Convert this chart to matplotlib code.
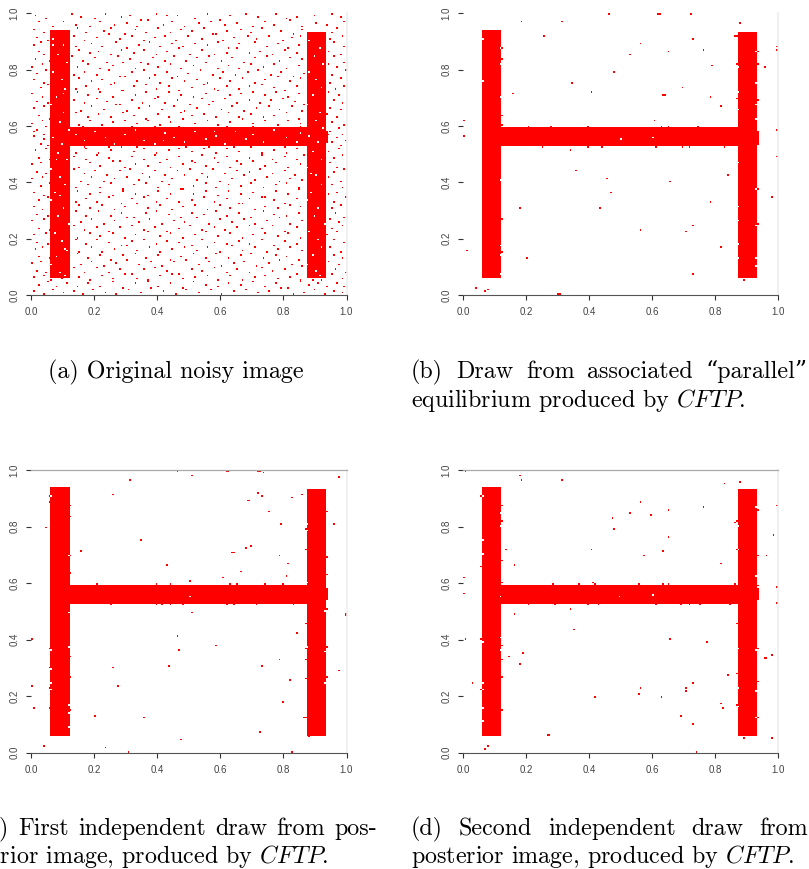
import numpy as np
import matplotlib
matplotlib.use("Agg")
import matplotlib.pyplot as plt
from matplotlib.colors import ListedColormap

plt.rcParams['mathtext.fontset'] = 'cm'

W_PX, H_PX = 809, 869
N = 180  # pixel grid of each image

# ---- the "H" letter: rectangles (x0, x1, y0, y1) in data units ----
h_x0 = [0.060, 0.870, 0.124, 0.934]
h_x1 = [0.124, 0.934, 0.870, 0.938]
h_y0 = [0.059, 0.059, 0.530, 0.540]
h_y1 = [0.937, 0.934, 0.592, 0.585]

ticks = [0.0, 0.2, 0.4, 0.6, 0.8, 1.0]
tick_labels = ["0.0", "0.2", "0.4", "0.6", "0.8", "1.0"]

# ---- (a) noisy image: flipped pixels (per-mille coordinates) ----
noise_a = [
 (12,993),(47,981),(133,996),(158,988),(201,979),(236,997),(288,984),(312,992),(347,976),(395,999),(431,989),(462,994),(520,983),(561,996),(598,977),(631,992),(678,998),(720,985),(775,995),(806,980),(842,984),(897,993),(951,997),(979,986),
 (25,968),(71,955),(104,972),(142,961),(187,952),(219,970),(263,958),(301,966),(338,951),(372,973),(418,957),(449,969),(486,953),(533,962),(572,971),(615,956),(650,965),(702,950),(741,968),(768,959),(819,973),(856,954),(905,966),(938,958),(990,971),
 (6,940),(39,930),(147,945),(176,928),(228,937),(255,947),(297,926),(329,942),(366,933),(403,948),(440,929),(477,940),(509,935),(548,946),(587,927),(622,938),(664,944),(697,931),(733,947),(789,936),(830,926),(861,942),(955,930),(972,945),
 (19,912),(52,902),(137,920),(169,905),(208,916),(246,923),(279,908),(320,918),(358,901),(391,913),(425,922),(458,904),(497,917),(539,909),(575,924),(608,902),(641,915),(687,921),(716,906),(752,918),(798,903),(825,913),(853,922),(948,909),(986,917),
 (8,885),(33,897),(141,878),(192,890),(223,881),(269,896),(305,876),(342,888),(377,899),(410,882),(446,894),(482,879),(518,891),(556,884),(594,898),(627,877),(660,889),(709,895),(745,880),(781,892),(814,876),(848,887),(961,899),(993,883),
 (27,862),(44,851),(152,870),(185,856),(214,866),(251,853),(287,872),(326,858),(361,867),(399,850),(433,863),(471,874),(503,855),(542,868),(580,852),(617,861),(653,873),(692,857),(727,866),(763,851),(801,870),(839,859),(944,864),(978,852),
 (15,838),(57,829),(131,845),(166,833),(203,842),(239,826),(275,848),(316,836),(350,827),(385,844),(423,832),(455,847),(491,828),(527,840),(566,849),(602,831),(636,843),(674,826),(711,839),(748,848),(786,830),(821,841),(857,834),(957,846),(989,827),
 (3,811),(36,822),(145,806),(179,818),(217,802),(258,815),(293,823),(331,804),(368,817),(404,808),(439,821),(474,801),(512,813),(551,824),(589,805),(624,816),(661,803),(699,819),(737,810),(772,822),(809,801),(846,814),(940,820),(970,806),
 (22,787),(49,797),(136,779),(172,791),(209,783),(247,798),(282,777),(319,789),(356,795),(392,780),(428,792),(465,776),(499,786),(537,799),(574,781),(611,793),(647,778),(684,790),(722,796),(759,782),(793,794),(832,777),(863,788),(952,783),(995,796),
 (10,762),(41,752),(155,770),(190,757),(226,766),(264,751),(299,773),(337,760),(373,768),(411,754),(447,771),(486,759),(524,765),(560,750),(596,772),(633,756),(671,769),(706,753),(743,764),(780,774),(817,758),(852,767),(946,755),(982,770),
 (30,737),(55,746),(139,729),(174,741),(212,733),(250,748),(286,726),(323,739),(362,745),(397,731),(435,742),(470,727),(507,736),(546,749),(583,732),(620,744),(657,728),(694,740),(731,747),(767,734),(804,726),(841,743),(962,731),(990,741),
 (4,713),(37,703),(149,721),(183,709),(220,717),(256,702),(292,723),(330,711),(365,718),(402,705),(438,720),(476,710),(514,701),(553,716),(590,724),(628,706),(666,715),(702,722),(739,707),(776,719),(812,704),(849,714),(943,718),(975,708),
 (18,688),(50,679),(134,694),(170,682),(206,697),(243,686),(280,676),(317,692),(353,683),(389,698),(426,680),(462,691),(501,677),(539,695),(577,684),(614,699),(650,681),(689,693),(725,678),(761,689),(798,697),(836,685),(866,676),(958,692),(987,680),
 (9,662),(42,671),(159,655),(193,668),(229,660),(267,673),(303,652),(340,664),(376,670),(413,657),(450,667),(488,651),(526,663),(563,674),(600,658),(638,669),(675,654),(713,666),(750,672),(788,659),(823,668),(859,653),(949,665),(981,656),
 (26,638),(58,627),(143,645),(178,632),(215,641),(253,629),(289,647),(326,636),(363,626),(400,643),(437,631),(474,648),(511,634),(549,640),(586,628),(623,646),(661,633),(698,644),(735,629),(772,637),(809,648),(845,627),(937,640),(969,632),
 (2,611),(34,620),(153,605),(188,617),(224,602),(261,613),(297,622),(334,607),(371,619),(408,603),(444,614),(481,624),(519,609),(557,618),(594,601),(631,612),(668,623),(705,606),(742,617),(779,604),(816,621),(852,610),(955,615),(992,603),
 (21,587),(48,596),(166,597),(241,594),(318,598),(392,595),(470,597),(545,593),(619,599),(703,596),(782,594),(851,598),(946,583),(974,592),(11,578),
 (7,563),(39,551),(44,572),(944,568),(967,556),(988,571),
 (28,537),(52,528),(950,541),(979,531),(996,547),(171,526),(248,527),(334,525),(407,528),(489,526),(566,527),(641,525),(722,528),(803,526),
 (13,512),(46,521),(141,505),(176,518),(213,502),(251,516),(287,523),(324,508),(361,519),(398,501),(435,514),(472,522),(510,507),(547,517),(584,503),(621,520),(659,511),(696,524),(733,505),(770,515),(807,501),(844,522),(941,510),(976,519),
 (24,487),(56,478),(138,494),(173,481),(209,497),(246,485),(283,476),(320,492),(357,483),(394,498),(431,479),(468,490),(506,476),(543,496),(580,484),(617,493),(655,477),(692,488),(729,499),(766,480),(803,491),(840,478),(865,495),(958,486),(985,497),
 (5,462),(31,471),(150,455),(186,468),(222,459),(259,473),(295,451),(332,466),(369,458),(406,472),(442,453),(479,464),(517,470),(554,456),(591,467),(628,452),(666,463),(703,474),(740,457),(777,469),(814,454),(851,465),(947,470),(972,452),
 (17,438),(49,428),(135,446),(168,431),(204,443),(241,426),(278,440),(315,448),(352,433),(389,444),(427,427),(464,439),(502,447),(540,432),(577,445),(614,429),(652,441),(689,435),(726,448),(764,430),(801,442),(838,427),(960,437),(993,447),
 (1,412),(38,420),(157,405),(191,417),(228,403),(265,414),(301,422),(339,408),(375,419),(412,401),(449,413),(486,423),(523,406),(561,418),(598,402),(635,415),(673,424),(710,409),(747,420),(784,404),(821,416),(857,410),(939,421),(980,405),
 (29,387),(59,397),(144,378),(180,391),(217,382),(254,396),(290,376),(327,389),(364,399),(401,381),(438,393),(475,377),(513,388),(550,398),(587,380),(624,392),(662,384),(699,397),(736,378),(773,390),(810,399),(847,383),(954,394),(988,379),
 (11,362),(43,353),(148,370),(184,357),(220,366),(257,351),(294,372),(331,360),(368,354),(405,368),(441,356),(478,373),(516,359),(553,367),(590,352),(627,371),(665,358),(702,365),(739,350),(776,369),(813,361),(849,373),(943,357),(969,366),
 (23,337),(54,346),(139,329),(175,342),(211,333),(248,347),(285,327),(322,339),(359,345),(396,331),(433,343),(470,328),(508,338),(545,349),(582,332),(619,344),(657,326),(694,340),(731,348),(768,334),(805,327),(842,341),(957,333),(996,346),
 (6,313),(35,303),(152,321),(187,309),(225,318),(262,302),(298,315),(335,323),(372,307),(409,317),(446,301),(483,314),(521,322),(558,305),(595,319),(632,310),(670,324),(707,303),(744,316),(781,308),(818,320),(855,312),(950,306),(983,318),
 (19,288),(51,278),(142,295),(177,283),(214,297),(251,281),(288,292),(325,276),(362,290),(399,298),(436,284),(473,277),(511,293),(548,286),(585,299),(622,280),(660,291),(697,276),(734,296),(771,285),(808,279),(845,294),(963,289),(991,277),
 (3,262),(40,271),(156,256),(192,268),(229,252),(266,265),(302,273),(339,259),(376,270),(413,254),(450,266),(488,261),(525,274),(562,253),(599,267),(636,258),(674,272),(711,255),(748,264),(785,273),(822,251),(858,263),(945,269),(977,257),
 (27,238),(57,229),(137,246),(171,233),(208,243),(245,227),(282,240),(319,248),(356,232),(393,244),(430,226),(467,237),(505,247),(542,231),(579,242),(616,228),(654,239),(691,249),(728,234),(765,245),(802,226),(839,241),(952,236),(985,247),
 (9,212),(45,222),(149,204),(185,218),(221,209),(258,221),(295,203),(332,215),(369,224),(406,207),(443,219),(480,201),(518,213),(555,223),(592,206),(629,217),(667,202),(704,214),(741,222),(778,208),(815,219),(852,205),(938,214),(971,223),
 (21,188),(53,178),(140,195),(174,182),(211,197),(248,184),(284,176),(321,191),(358,199),(395,180),(432,193),(469,185),(507,177),(544,196),(581,187),(618,179),(656,194),(693,183),(730,198),(767,176),(804,190),(841,181),(959,197),(994,185),
 (14,162),(37,171),(154,155),(190,168),(226,152),(263,166),(300,173),(337,158),(374,169),(411,151),(448,163),(485,172),(523,157),(560,167),(597,153),(634,174),(672,160),(709,170),(746,154),(783,165),(820,172),(856,159),(948,167),(980,152),
 (25,137),(58,128),(145,146),(181,132),(218,144),(255,127),(291,139),(328,148),(365,131),(402,142),(439,126),(476,138),(514,147),(551,133),(588,145),(625,129),(663,140),(700,148),(737,130),(774,143),(811,134),(848,127),(956,141),(988,130),
 (4,112),(32,121),(158,106),(194,118),(231,102),(268,114),(305,123),(342,109),(379,120),(416,104),(453,117),(491,124),(528,108),(565,119),(602,101),(639,113),(677,122),(714,105),(751,116),(788,124),(825,110),(861,103),(942,118),(975,107),
 (18,88),(48,79),(136,95),(172,83),(209,97),(246,81),(283,92),(320,76),(357,89),(394,98),(431,84),(468,77),(506,93),(543,86),(580,99),(617,80),(655,91),(692,78),(729,96),(766,85),(803,94),(840,77),(965,90),(997,82),
 (7,62),(43,71),(66,53),(97,57),(151,66),(187,54),(224,69),(261,58),(297,73),(334,61),(371,52),(408,67),(445,74),(482,56),(520,64),(557,72),(594,55),(631,68),(669,51),(706,63),(743,71),(780,57),(817,66),(853,52),(889,55),(921,53),(951,73),(984,60),
 (23,37),(55,46),(82,30),(113,41),(146,28),(182,44),(219,33),(256,47),(293,26),(330,39),(367,48),(404,31),(441,42),(478,27),(515,45),(553,36),(590,29),(627,43),(665,34),(702,49),(739,32),(776,40),(813,26),(850,47),(878,35),(907,44),(938,28),(969,41),(992,33),
 (11,12),(39,3),(71,19),(104,8),(137,16),(163,2),(199,21),(236,10),(272,4),(309,18),(346,7),(383,23),(420,13),(457,1),(494,17),(531,9),(568,22),(605,5),(643,14),(680,20),(717,6),(754,15),(791,24),(828,3),(866,11),(897,19),(929,4),(958,16),(987,8),
]
holes_a = [
 (72,910),(101,884),(88,851),(115,823),(67,790),(96,762),(110,731),(79,703),(63,676),(104,648),(90,615),(117,588),(70,560),(99,537),(84,505),(112,478),(66,449),(93,421),(108,392),(76,364),(64,336),(101,307),(87,279),(119,251),(73,222),(97,194),(111,166),(82,138),(65,110),(94,83),(106,70),(78,478),(103,712),(69,887),(116,160),(90,355),
 (883,905),(912,876),(897,848),(925,820),(878,791),(905,763),(919,734),(889,706),(874,677),(914,649),(900,621),(927,593),(880,562),(909,540),(894,507),(922,479),(876,451),(903,423),(918,394),(886,366),(874,338),(911,309),(897,281),(929,253),(883,224),(907,196),(921,167),(892,139),(875,111),(904,84),(916,69),(888,430),
 (140,572),(171,545),(203,581),(236,556),(262,538),(298,567),(331,584),(359,549),(392,534),(427,574),(455,559),(488,541),(521,579),(553,551),(586,566),(612,537),(645,583),(679,555),(703,570),(738,544),(771,586),(806,560),(839,539),(851,575),(417,548),(579,582),
]

# ---- (b) parallel equilibrium draw ----
stray_b = [(464,1000),(622,1000),(627,1000),(726,1000),(187,968),(312,968),(258,917),(731,911),(566,893),(1000,878),(1000,872),(763,867),(653,862),(531,850),(881,964),(862,917),(790,814),(961,811),(480,790),(347,755),(410,720),(157,712),(637,711),(642,711),(699,734),(786,701),(817,671),(611,619),(3,619),(0,564),(344,512),(356,440),(461,414),(470,366),(660,402),(843,426),(1000,588),(1000,489),(979,347),(786,333),(181,311),(438,311),(729,245),(709,227),(564,231),(817,170),(12,159),(203,130),(729,77),(44,26),(78,19),(72,12),(303,0),(311,0),(890,53)]
edge_b = [(125,876),(125,837),(125,636),(125,600),(125,272),(125,151),(936,864),(936,817),(936,692),(936,538),(936,373),(936,254),(251,525),(399,525),(442,525),(615,525),(698,525),(720,525),(832,525),(207,597),(283,597),(399,597),(633,597),(654,597),(745,597),(869,917),(869,820),(869,700)]
holes_b = [(120,876),(120,817),(120,704),(120,408),(120,174),(120,142),(120,75),(874,811),(874,722),(874,657),(874,467),(874,314),(874,266),(874,178),(874,130),(930,864),(930,751),(930,675),(930,627),(930,373),(930,249),(930,130),(930,101),(504,553),(601,560),(63,908),(63,757)]

# ---- (c) first posterior draw ----
stray_c = [(464,998),(508,981),(621,998),(626,998),(720,998),(725,998),(738,992),(312,963),(977,974),(258,914),(718,917),(729,910),(686,894),(691,894),(826,900),(858,914),(753,851),(790,811),(958,808),(49,797),(346,755),(156,712),(636,706),(641,706),(682,726),(698,730),(785,698),(815,670),(432,663),(666,642),(610,618),(808,624),(503,610),(998,488),(998,494),(508,495),(462,414),(841,426),(0,403),(469,366),(587,380),(438,311),(787,330),(733,308),(258,301),(975,289),(817,256),(0,237),(273,237),(11,160),(203,131),(359,123),(797,183),(864,125),(473,47),(727,75),(43,25),(238,22),(306,0),(310,0),(826,0),(883,58)]
edge_c = [(252,525),(396,525),(412,525),(442,525),(480,525),(619,525),(641,525),(716,525),(828,525),(921,525),(208,597),(398,597),(442,597),(629,597),(653,597),(741,597),(799,597),(125,873),(125,835),(125,698),(125,634),(125,340),(125,269),(125,153),(57,909),(57,886),(57,369),(57,304),(57,228),(57,159),(869,791),(869,721),(869,458),(869,367),(869,328),(869,263),(869,127),(936,855),(936,693),(936,631),(936,546),(936,511),(936,375),(936,267)]
holes_c = [(63,909),(63,363),(63,298),(63,245),(63,224),(120,495),(120,373),(120,171),(120,139),(120,92),(874,806),(874,788),(874,377),(930,505),(930,358),(930,245),(503,551),(120,700),(874,600)]

# ---- (d) second posterior draw ----
stray_d = [(10,998),(178,978),(187,963),(312,963),(830,953),(881,960),(566,888),(763,868),(1000,875),(653,861),(531,847),(598,840),(474,833),(480,791),(863,816),(986,772),(650,765),(410,719),(136,717),(637,712),(577,698),(962,698),(165,666),(817,672),(2,617),(414,603),(0,564),(1000,585),(995,532),(162,494),(344,511),(354,436),(10,401),(659,401),(775,390),(194,351),(146,344),(181,313),(958,334),(963,334),(979,348),(844,277),(33,245),(729,245),(709,228),(709,222),(564,231),(560,206),(421,196),(633,196),(817,175),(826,160),(694,128),(731,104),(268,65),(273,65),(982,51),(78,25),(72,15),(744,0),(890,54)]
edge_d = [(125,873),(125,818),(125,680),(125,600),(125,380),(125,330),(125,270),(125,150),(57,909),(57,660),(57,400),(57,225),(936,860),(936,697),(936,590),(936,555),(936,370),(936,255),(936,127),(869,818),(869,720),(869,540),(869,460),(869,280),(869,170),(209,525),(290,525),(399,525),(432,525),(614,525),(692,525),(720,525),(755,525),(848,525),(905,525),(284,597),(371,597),(420,597),(559,597),(636,597),(654,597),(864,597)]
holes_d = [(63,909),(63,755),(63,702),(63,393),(63,245),(63,225),(63,160),(63,113),(120,847),(120,805),(120,552),(120,410),(120,363),(874,805),(874,720),(874,369),(874,228),(874,165),(930,868),(930,625),(930,366),(930,222),(930,127),(600,559),(603,559),(498,551)]

# ---- captions ----
cap_a = "(a) Original noisy image"
cap_b1 = ["(b)", "Draw", "from", "associated", "\u201cparallel\u201d"]
cap_b2 = "equilibrium produced by $CFTP$."
cap_c1 = ["(c)", "First", "independent", "draw", "from", "pos-"]
cap_c2 = "terior image, produced by $CFTP$."
cap_d1 = ["(d)", "Second", "independent", "draw", "from"]
cap_d2 = "posterior image, produced by $CFTP$."


def make_grid(red_pts, white_pts):
    g = np.zeros((N, N))
    c = (np.arange(N) + 0.5) / N
    X, Y = np.meshgrid(c, c)
    for x0, x1, y0, y1 in zip(h_x0, h_x1, h_y0, h_y1):
        g[(X >= x0) & (X <= x1) & (Y >= y0) & (Y <= y1)] = 1
    for px, py in red_pts:
        g[min(int(py / 1000 * N), N - 1), min(int(px / 1000 * N), N - 1)] = 1
    for px, py in white_pts:
        g[min(int(py / 1000 * N), N - 1), min(int(px / 1000 * N), N - 1)] = 0
    return g


fig = plt.figure(figsize=(W_PX / 100, H_PX / 100), dpi=100)
fig.patch.set_facecolor('white')
cmap = ListedColormap(['white', '#ff0000'])


def panel(px_left, px_right, px_top, px_bottom, red_pts, white_pts, top_line):
    rect = [px_left / W_PX, 1 - px_bottom / H_PX,
            (px_right - px_left) / W_PX, (px_bottom - px_top) / H_PX]
    ax = fig.add_axes(rect)
    ax.imshow(make_grid(red_pts, white_pts), cmap=cmap, vmin=0, vmax=1,
              extent=(0, 1, 0, 1), origin='lower', interpolation='nearest',
              aspect='auto')
    ax.set_xlim(0, 1)
    ax.set_ylim(0, 1)
    ax.spines['left'].set_visible(False)
    ax.spines['bottom'].set_color('#555555')
    ax.spines['bottom'].set_linewidth(0.8)
    ax.spines['right'].set_color('#ededed')
    ax.spines['right'].set_linewidth(1.2)
    if top_line:
        ax.spines['top'].set_color('#aaaaaa')
        ax.spines['top'].set_linewidth(0.9)
    else:
        ax.spines['top'].set_visible(False)
    ax.set_xticks(ticks)
    ax.set_xticklabels(tick_labels, fontfamily='Liberation Sans')
    ax.set_yticks(ticks)
    ax.set_yticklabels(tick_labels, rotation=90, va='center',
                       fontfamily='Liberation Sans')
    ax.tick_params(length=3.5, width=0.8, color='#333333', labelsize=7,
                   labelcolor='#444444', pad=5)
    return ax


panel(31, 346.5, 13.3, 295, noise_a, holes_a, False)
panel(463.3, 777.7, 13.3, 295, stray_b + edge_b, holes_b, False)
panel(31, 346.5, 470, 752.7, stray_c + edge_c, holes_c, True)
panel(463.3, 777.7, 470, 752.7, stray_d + edge_d, holes_d, True)

cap_font = dict(family=['cmr10', 'DejaVu Serif'], size=17.3, color='black')
renderer = fig.canvas.get_renderer()


def justified(words, x0, x1, y_base):
    ts = [fig.text(0, 0, w, ha='left', va='baseline', **cap_font) for w in words]
    ws = [t.get_window_extent(renderer).width for t in ts]
    gap = (x1 - x0 - sum(ws)) / (len(ws) - 1)
    x = x0
    for t, w in zip(ts, ws):
        t.set_position((x / W_PX, 1 - y_base / H_PX))
        x += w + gap


def plain(text, x0, y_base, ha='left'):
    fig.text(x0 / W_PX, 1 - y_base / H_PX, text, ha=ha, va='baseline', **cap_font)


CAP_W = 397
LEFT_CAP_X = -20
plain(cap_a, 176, 378, ha='center')
justified(cap_b1, 411, 411 + CAP_W, 378)
plain(cap_b2, 411, 407)
justified(cap_c1, LEFT_CAP_X, LEFT_CAP_X + CAP_W, 835)
plain(cap_c2, LEFT_CAP_X, 863)
justified(cap_d1, 411, 411 + CAP_W, 835)
plain(cap_d2, 411, 863)

fig.savefig('out.png', dpi=100, facecolor='white')
